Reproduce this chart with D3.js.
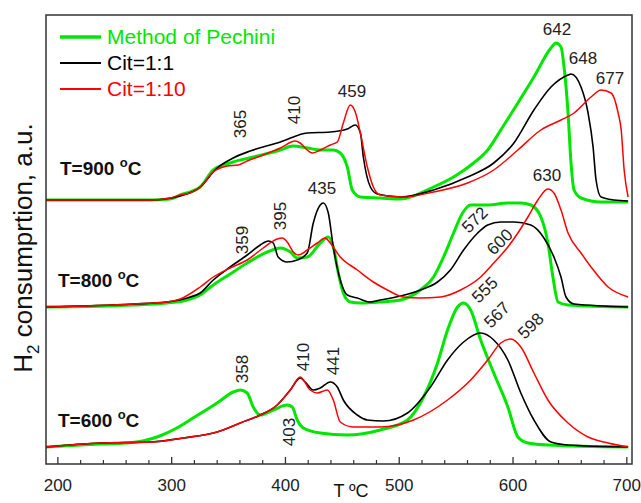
<html>
<head>
<title>H2 TPR</title>
<style type="text/css">
* { margin: 0; padding: 0; }
body { background: #fff; }
text { font-family: "Liberation Sans", Arial, sans-serif; }
.peak { font-size: 17px; fill: #222; }
.grp { font-size: 19px; font-weight: bold; fill: #111; }
.tick { font-size: 17px; fill: #222; }
</style>
<script type="text/javascript" src="https://cdn.jsdelivr.net/npm/d3@7/dist/d3.min.js"></script>
<script type="text/javascript">
// curves: [T, signal in a.u.] (already stacked per calcination temperature)
var pechini900 = [[190,264],[282,264],[299,265],[308,269],[325.5,277],[337,294],[354.5,302],[372,307],[396,314],[407,318],[420,316],[431,314],[442.5,314],[448.6,311],[454.8,297],[459.2,274],[466.3,267],[483.8,266],[501.5,265],[530.6,277],[548.2,287],[565.8,301],[578.2,314],[589.7,334],[604.7,361],[618.8,387],[633.8,416],[638.2,421],[642.6,417],[645.3,397],[648.8,351],[651.4,301],[654.1,274],[660.2,266],[677.8,262],[701.6,262]];
var cit11_900 = [[190,264],[282,264],[308,268],[325.5,277],[340.4,296],[354.5,306],[369.5,313],[396,322],[419.6,331],[439.8,332],[454.8,335],[461.8,339],[466.3,331],[468.9,307],[475.1,277],[481.2,270],[501.5,267],[530.6,274],[560.5,287],[583.5,301],[601.2,321],[618.8,354],[633.8,377],[648.8,389],[651.4,390],[660.2,377],[666.4,351],[670.8,317],[673.4,284],[677.8,267],[689.3,264],[701.6,263]];
var cit110_900 = [[190,264],[282,264],[299,266],[308,269],[316.7,271],[325.5,277],[337,292],[349.2,298],[358.9,299],[366.8,303],[380.9,309],[396,316],[409,323],[413.4,321],[419.6,314],[424,311],[431,314],[439.8,319],[446,322],[451.3,341],[457.4,359],[461.8,352],[466.3,331],[472.4,297],[477.7,277],[483.8,269],[504.1,267],[530.6,272],[560.5,281],[583.5,294],[604.7,314],[624.9,334],[642.6,344],[654.1,351],[669,367],[677.8,374],[686.6,371],[692.8,351],[695.5,334],[698.1,294],[701.6,267]];

var pechini800 = [[190,157],[267,159],[296,161],[314,164],[325.5,169],[337,179],[351.8,190],[366.8,201],[384.4,212],[395.9,216],[404.7,212],[410.8,206],[419.6,207],[431,221],[438.1,227],[442.5,217],[446.9,191],[451.3,171],[457.4,162],[466.3,161],[483.8,162],[501.5,164],[519,174],[530.6,187],[539.4,207],[548.2,231],[556.1,251],[563.2,259],[578.2,259],[595.9,261],[607.3,261],[616.1,259],[624.9,247],[631.1,221],[635.5,187],[640,162],[648.8,159],[701.6,157]];
var cit11_800 = [[190,157],[267,160],[296,162],[314,166],[325.5,171],[337,184],[351.8,197],[366.8,209],[378.3,219],[385.3,223],[389.7,221],[394,207],[402,202],[410.8,204],[419.6,211],[424.9,241],[431,259],[433.7,261],[438.1,251],[442.5,217],[448.6,184],[454.8,169],[463.6,166],[475.1,162],[483.8,164],[501.5,168],[519,174],[534.1,182],[545.4,194],[557,214],[569.4,231],[578.2,239],[589.7,242],[601.2,242],[616.1,239],[627.6,226],[636.4,207],[642.6,187],[647,167],[654.1,160],[701.6,157]];
var cit110_800 = [[190,157],[267,160],[296,162],[308,165],[325.5,177],[337,187],[351.8,196],[366.8,204],[380.9,216],[393.2,225],[397.6,226],[402,222],[407.3,212],[411.7,209],[419.6,214],[428.4,221],[435.4,226],[439.8,221],[448.6,207],[463.6,194],[477.7,182],[490,174],[504.1,167],[519,166],[536.7,167],[554.4,174],[572,187],[583.5,201],[595.9,217],[604.7,231],[613.5,247],[622.3,264],[631.1,275],[636.4,271],[642.6,254],[648.8,231],[660.2,211],[669,197],[684,177],[701.6,167]];

var pechini600 = [[190,17],[238,20],[260,21],[275,23],[290,28],[305,36],[319.3,46],[340.4,61],[354.5,72],[360.7,74],[366.8,71],[372.1,57],[378.3,49],[389.7,54],[402,59],[406.4,57],[410.8,44],[416.1,36],[431,31],[454.8,29],[483.8,34],[507.7,44],[521.8,67],[534.1,101],[542.9,134],[551.7,157],[557,161],[563.2,154],[572,124],[583.5,91],[595.9,57],[604.7,27],[613.5,21],[631.1,19],[701.6,17]];
var cit11_600 = [[190,17],[238,21],[282,22],[310.5,26],[340.4,32],[360.7,41],[378.3,49],[393.2,59],[404.7,74],[413.4,86],[417.8,82],[424.9,74],[431,76],[439.8,82],[446,77],[451.3,64],[463.6,49],[472.4,44],[486.5,43],[507.7,51],[527.9,77],[542.9,104],[557,122],[572,131],[583.5,124],[595.9,104],[607.3,71],[618.8,44],[633.8,22],[648.8,19],[701.6,17]];
var cit110_600 = [[190,17],[238,21],[282,22],[310.5,26],[340.4,32],[360.7,41],[378.3,49],[393.2,59],[404.7,74],[413.4,87],[422.2,74],[428.4,71],[437.2,74],[442.5,64],[448.6,42],[460.1,37],[483.8,37],[513,44],[542.9,64],[563.2,84],[578.2,104],[589.7,121],[598.5,125],[607.3,117],[618.8,91],[631.1,64],[648.8,41],[666.4,27],[684,21],[701.6,17]];

var seriesNames = ["Method of Pechini", "Cit=1:1", "Cit=1:10"];
var seriesColors = ["#00e600", "#000000", "#ff0000"];
var seriesWidths = [3, 1.6, 1.5];

// peak labels: text, T, a.u., rotation
var peakLabels = [
  ["365", 360.5, 340, -90], ["410", 408, 354, -90], ["459", 458.9, 373, 0],
  ["642", 639.1, 435, 0], ["648", 661.9, 406, 0], ["677", 685.7, 386, 0],
  ["359", 362.3, 224, -90], ["395", 396.5, 248, -90], ["435", 432.6, 276, 0],
  ["630", 630.3, 289, 0], ["572", 567, 244, -45], ["600", 589, 222, -45],
  ["358", 362.3, 95, -90], ["410", 415.9, 107, -90], ["441", 443.1, 103, -90],
  ["403", 403.6, 32, -90], ["555", 575.8, 174, -45], ["567", 586.4, 149, -45],
  ["598", 616.2, 138, -45]
];
var groupLabels = [["T=900 ", 202.3, 289], ["T=800 ", 200.5, 177], ["T=600 ", 200.5, 37]];
var majorTicks = [200, 300, 400, 500, 600, 700];

window.onload = function() {
  var W = 641, H = 503;
  var left = 46, right = 632, top = 15, bottom = 464;

  var svg = d3.select("#chart").append("svg")
    .attr("width", W).attr("height", H);

  var x = d3.scaleLinear().domain([190, 705]).range([left, right]);
  var y = d3.scaleLinear().domain([0, 449]).range([bottom, top]);

  var line = d3.line()
    .x(function(d) { return x(d[0]); })
    .y(function(d) { return y(d[1]); })
    .curve(d3.curveMonotoneX);

  var groups = [
    [pechini900, cit11_900, cit110_900],
    [pechini800, cit11_800, cit110_800],
    [pechini600, cit11_600, cit110_600]
  ];
  groups.forEach(function(g) {
    g.forEach(function(s, i) {
      svg.append("path")
        .attr("d", line(s))
        .attr("fill", "none")
        .attr("stroke", seriesColors[i])
        .attr("stroke-width", seriesWidths[i])
        .attr("stroke-linejoin", "round");
    });
  });

  // frame
  svg.append("rect")
    .attr("x", left).attr("y", top)
    .attr("width", right - left).attr("height", bottom - top)
    .attr("fill", "none").attr("stroke", "#333").attr("stroke-width", 1.5);

  // bottom axis, ticks inward
  var xAxis = d3.axisBottom(x).tickValues(majorTicks).tickSize(-7).tickPadding(15);
  var ax = svg.append("g").attr("transform", "translate(0," + bottom + ")").call(xAxis);
  ax.select(".domain").remove();
  ax.selectAll("line").attr("stroke", "#333").attr("stroke-width", 1.3);
  ax.selectAll("text").attr("class", "tick").attr("font-family", null).attr("font-size", null).attr("fill", "#222");

  var minor = d3.range(220, 700, 20).filter(function(t) { return t % 100 != 0; });
  var mx = svg.append("g").attr("transform", "translate(0," + bottom + ")")
    .call(d3.axisBottom(x).tickValues(minor).tickSize(-4).tickFormat(""));
  mx.select(".domain").remove();
  mx.selectAll("line").attr("stroke", "#333").attr("stroke-width", 1.2);

  // peak labels
  peakLabels.forEach(function(p) {
    svg.append("text")
      .attr("class", "peak")
      .attr("text-anchor", "middle")
      .attr("dominant-baseline", "central")
      .attr("transform", "translate(" + x(p[1]) + "," + y(p[2]) + ") rotate(" + p[3] + ")")
      .text(p[0]);
  });

  groupLabels.forEach(function(g) {
    var t = svg.append("text").attr("class", "grp")
      .attr("x", x(g[1])).attr("y", y(g[2]));
    t.append("tspan").text(g[0]);
    t.append("tspan").attr("dy", -8).attr("font-size", 13).text("o");
    t.append("tspan").attr("dy", 8).text("C");
  });

  // legend
  seriesNames.forEach(function(n, i) {
    var ly = 37 + i * 26;
    svg.append("line")
      .attr("x1", 60).attr("x2", 101).attr("y1", ly).attr("y2", ly)
      .attr("stroke", seriesColors[i]).attr("stroke-width", seriesWidths[i] + 0.4);
    svg.append("text")
      .attr("x", 107).attr("y", ly + 7)
      .attr("font-size", 21).attr("fill", seriesColors[i])
      .text(n);
  });

  // axis titles
  var yt = svg.append("text")
    .attr("transform", "translate(32,248) rotate(-90)")
    .attr("text-anchor", "middle")
    .attr("font-size", 26).attr("fill", "#111");
  yt.append("tspan").text("H");
  yt.append("tspan").attr("font-size", 17).attr("dy", 7).text("2");
  yt.append("tspan").attr("dy", -7).text(" consumprtion, a.u.");

  svg.append("text")
    .attr("x", 351).attr("y", 497)
    .attr("text-anchor", "middle")
    .attr("font-size", 18).attr("fill", "#111")
    .text("T \u00baC");
}
</script>
</head>
<body>
  <div id="chart"></div>
</body>
</html>
